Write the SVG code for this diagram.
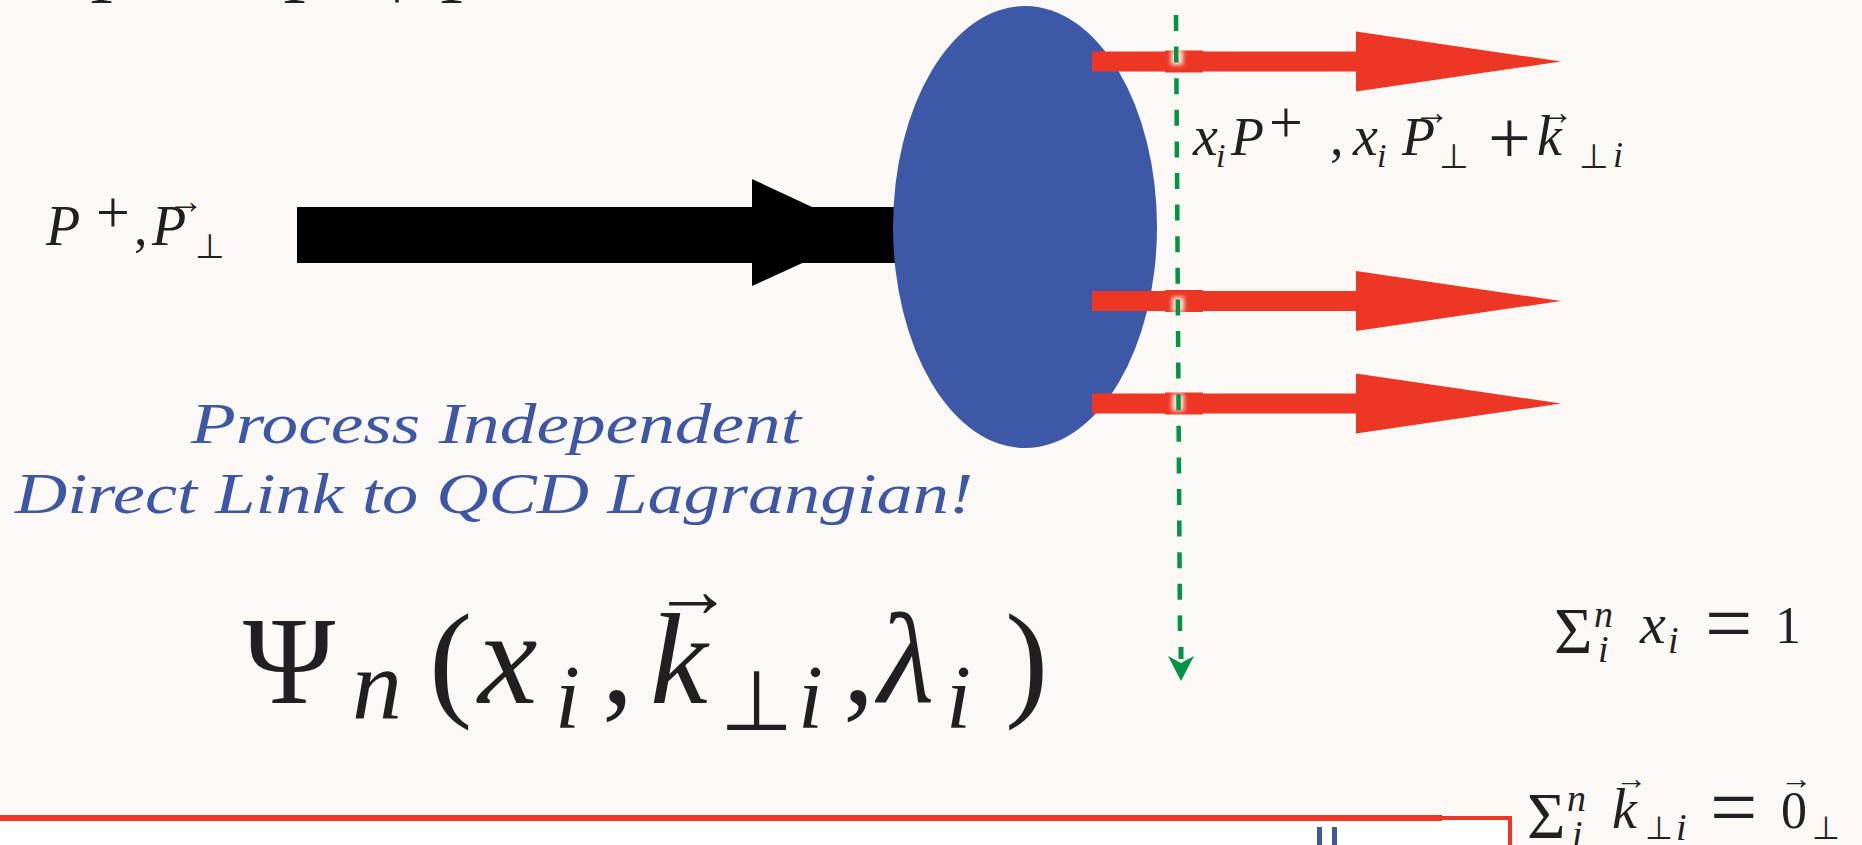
<svg xmlns="http://www.w3.org/2000/svg" width="1862" height="845" viewBox="0 0 1862 845">
<defs>
<filter id="glow" x="-1" y="-1" width="3" height="3"><feGaussianBlur stdDeviation="2"/></filter>
</defs>
<style>
.m{font-family:"Liberation Serif","Times New Roman",serif;fill:#231f20}
.it{font-style:italic}
.op{font-family:"DejaVu Sans","Liberation Sans",sans-serif;fill:#231f20}
.hand{font-family:"Liberation Serif","Times New Roman",serif;font-style:italic;fill:#3d57a5}
.red{fill:#ee3624}
.green{fill:#009444}
</style>
<rect width="1862" height="845" fill="#fbf8f5"/>

<g id="top-formula">
<text class="m" font-size="70" y="3"><tspan class="it" x="92">P</tspan><tspan font-size="46" x="138" dy="-32">+</tspan><tspan x="181" dy="32">=</tspan><tspan class="it" x="285">P</tspan><tspan font-size="46" x="331" dy="-32">0</tspan></text>
<text class="m" font-size="70" x="397" y="10" text-anchor="middle">+</text>
<text class="m" font-size="70" y="3"><tspan class="it" x="442">P</tspan><tspan class="it" font-size="46" x="488" dy="-32">z</tspan></text>
</g>

<g id="connectors">
<g id="incoming-arrow">
<rect x="297" y="207" width="660" height="56" fill="#000"/>
<polygon points="752,179 868,233 752,286" fill="#000"/>
</g>
</g>

<g id="hadron">
<ellipse cx="1025" cy="227" rx="132" ry="221" fill="#3c58a6"/>
</g>

<g id="parton-arrows">
<g id="parton-1">
<rect class="red" x="1092" y="51.5" width="268" height="20"/>
<rect class="red" x="1165" y="50.5" width="38" height="22"/>
<polygon class="red" points="1356,31.5 1561,61.5 1356,91.5"/>
</g>
<g id="parton-2">
<rect class="red" x="1092" y="291" width="268" height="20"/>
<rect class="red" x="1165" y="290" width="38" height="22"/>
<polygon class="red" points="1356,271 1561,301 1356,331"/>
</g>
<g id="parton-3">
<rect class="red" x="1092" y="393.5" width="268" height="20"/>
<rect class="red" x="1165" y="392.5" width="38" height="22"/>
<polygon class="red" points="1356,373.5 1561,403.5 1356,433.5"/>
</g>
</g>

<g id="cut-line">
<rect x="1171" y="50" width="12" height="15" fill="#fde6d6" filter="url(#glow)"/>
<rect x="1172" y="297" width="12" height="15" fill="#fde6d6" filter="url(#glow)"/>
<rect x="1172" y="394" width="12" height="17" fill="#fde6d6" filter="url(#glow)"/>
<line x1="1176" y1="15" x2="1180" y2="631" stroke="#009444" stroke-width="4.5" stroke-dasharray="16 15.6"/>
<rect class="green" x="1178.5" y="647" width="5" height="12"/>
<path class="green" d="M1168,656 L1181,663 L1194,656 L1181,681 Z"/>
</g>

<g id="label-proton">
<text class="m it" font-size="56" x="46" y="245">P</text>
<text class="m" font-size="60" x="96" y="232">+</text>
<text class="m" font-size="54" x="134" y="245">,</text>
<text class="m it" font-size="56" x="152" y="245">P</text>
<text class="m" font-size="36" x="186" y="213" text-anchor="middle">→</text>
<text class="op" font-size="34" x="195" y="258">⊥</text>
</g>

<g id="label-parton">
<text class="m it" font-size="56" x="1193" y="155">x</text>
<text class="m it" font-size="34" x="1216" y="167">i</text>
<text class="m it" font-size="54" x="1231" y="155">P</text>
<text class="m" font-size="60" x="1269" y="142">+</text>
<text class="m" font-size="54" x="1330" y="155">,</text>
<text class="m it" font-size="56" x="1353" y="155">x</text>
<text class="m it" font-size="34" x="1377" y="167">i</text>
<text class="m it" font-size="54" x="1402" y="155">P</text>
<text class="m" font-size="36" x="1432" y="124" text-anchor="middle">→</text>
<text class="op" font-size="34" x="1439" y="168">⊥</text>
<text class="m" font-size="76" x="1488" y="163">+</text>
<text class="m it" font-size="56" x="1537" y="155">k</text>
<text class="m" font-size="36" x="1556" y="124" text-anchor="middle">→</text>
<text class="op" font-size="34" x="1579" y="168">⊥</text>
<text class="m it" font-size="36" x="1613" y="167">i</text>
</g>

<g id="caption">
<text class="hand" font-size="58" x="191" y="443" textLength="610" lengthAdjust="spacingAndGlyphs">Process Independent</text>
<text class="hand" font-size="58" x="15" y="513" textLength="958" lengthAdjust="spacingAndGlyphs">Direct Link to QCD Lagrangian!</text>
</g>

<g id="wavefunction">
<text class="m" font-size="125" x="243" y="703">Ψ</text>
<text class="m it" font-size="100" x="352" y="718">n</text>
<text class="m" font-size="130" x="429" y="703">(</text>
<text class="m it" font-size="134" x="478" y="703">x</text>
<text class="m it" font-size="90" x="555" y="728">i</text>
<text class="m" font-size="125" x="602" y="703">,</text>
<text class="m it" font-size="130" x="650" y="703">k</text>
<text class="m" font-size="80" x="693" y="617" text-anchor="middle">→</text>
<text class="op" font-size="84" x="720" y="730">⊥</text>
<text class="m it" font-size="90" x="798" y="728">i</text>
<text class="m" font-size="125" x="843" y="703">,</text>
<text class="m it" font-size="130" x="878" y="703">λ</text>
<text class="m it" font-size="90" x="946" y="728">i</text>
<text class="m" font-size="130" x="1005" y="703">)</text>
</g>

<g id="sum-x">
<text class="m" font-size="66" x="1554" y="653">Σ</text>
<text class="m it" font-size="38" x="1594" y="627">n</text>
<text class="m it" font-size="38" x="1598" y="662">i</text>
<text class="m it" font-size="58" x="1640" y="643">x</text>
<text class="m it" font-size="38" x="1668" y="653">i</text>
<text class="m" font-size="84" x="1705" y="652">=</text>
<text class="m" font-size="52" x="1775" y="643">1</text>
</g>

<g id="sum-k">
<text class="m" font-size="66" x="1527" y="838">Σ</text>
<text class="m it" font-size="38" x="1567" y="811">n</text>
<text class="m it" font-size="38" x="1572" y="847">i</text>
<text class="m it" font-size="56" x="1612" y="828">k</text>
<text class="m" font-size="32" x="1631" y="789" text-anchor="middle">→</text>
<text class="op" font-size="32" x="1645" y="839">⊥</text>
<text class="m it" font-size="38" x="1676" y="840">i</text>
<text class="m" font-size="84" x="1710" y="836">=</text>
<text class="m" font-size="52" x="1781" y="828">0</text>
<text class="m" font-size="32" x="1796" y="789" text-anchor="middle">→</text>
<text class="op" font-size="32" x="1812" y="839">⊥</text>
</g>

<g id="bottom-box">
<rect x="-4" y="818" width="1514" height="40" fill="#ffffff" stroke="#ee3624" stroke-width="4"/>
<rect class="red" x="0" y="815" width="1442" height="6"/>
<rect x="1317" y="827" width="5" height="20" fill="#3d57a5"/>
<rect x="1332" y="827" width="5" height="20" fill="#3d57a5"/>
</g>
</svg>
